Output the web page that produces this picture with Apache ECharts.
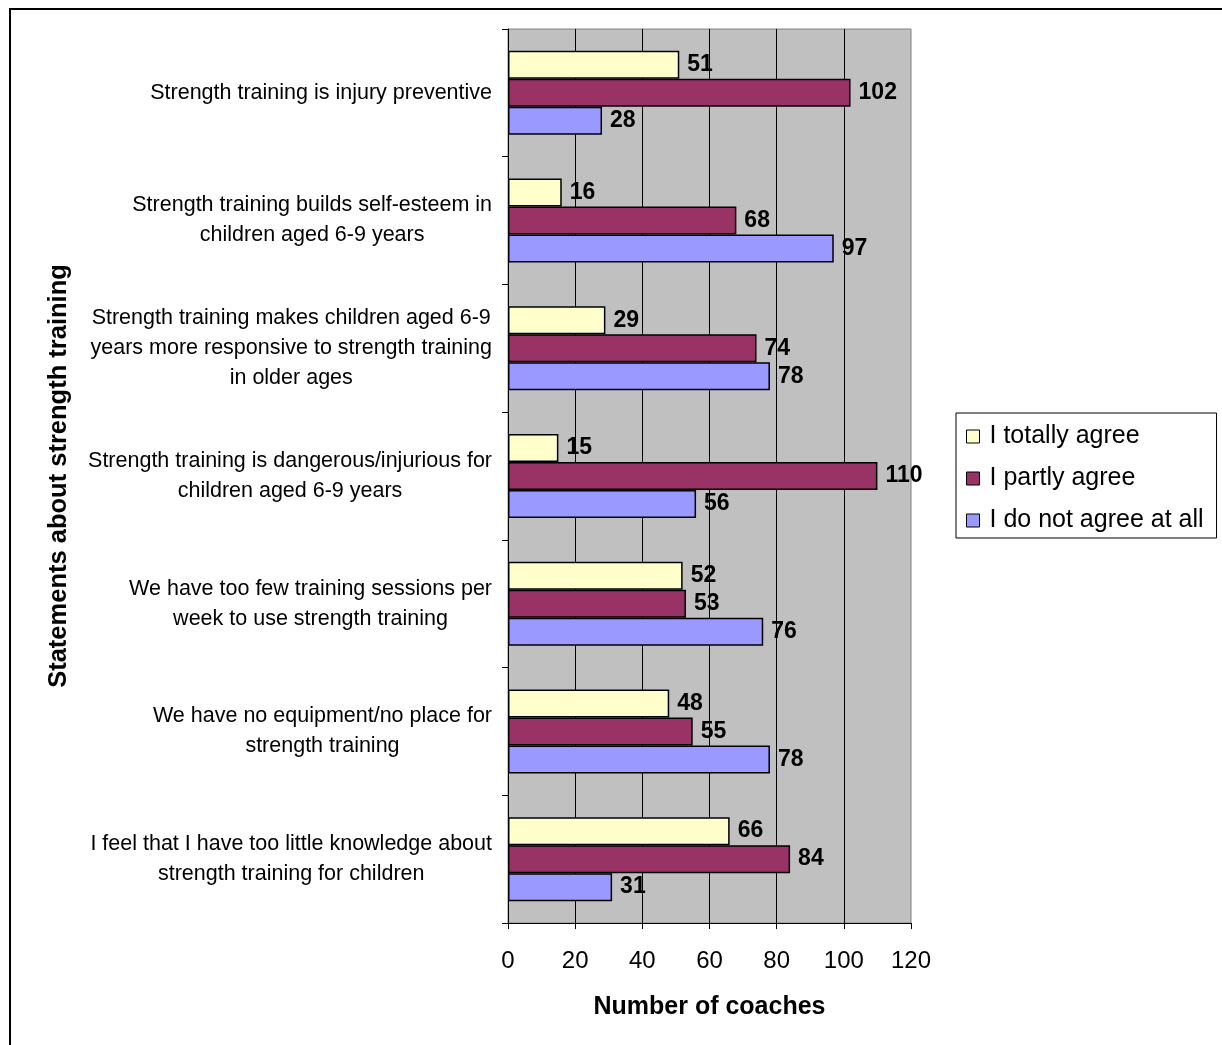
<!DOCTYPE html>
<html>
<head>
<meta charset="utf-8">
<style>
  html, body { margin: 0; padding: 0; background: #ffffff; }
  #chart { width: 1222px; height: 1045px; }
</style>
<script src="https://cdn.jsdelivr.net/npm/echarts@6/dist/echarts.min.js"></script>
</head>
<body>
<div id="chart"></div>
<script>
// Survey statements (line breaks as printed on the axis)
const categories = [
  'Strength training is injury preventive',
  'Strength training builds self-esteem in\nchildren aged 6-9 years',
  'Strength training makes children aged 6-9\nyears more responsive to strength training\nin older ages',
  'Strength training is dangerous/injurious for\nchildren aged 6-9 years',
  'We have too few training sessions per\nweek to use strength training',
  'We have no equipment/no place for\nstrength training',
  'I feel that I have too little knowledge about\nstrength training for children'
];

const seriesNames = ['I totally agree', 'I partly agree', 'I do not agree at all'];
const totallyAgree = [51, 16, 29, 15, 52, 48, 66];
const partlyAgree = [102, 68, 74, 110, 53, 55, 84];
const notAgree = [28, 97, 78, 56, 76, 78, 31];
const xTicks = [0, 20, 40, 60, 80, 100, 120];

const colors = ['#ffffcc', '#993366', '#9999ff'];
const FONT = '"Liberation Sans", Arial, sans-serif';

const chart = echarts.init(document.getElementById('chart'), null, { renderer: 'canvas' });

function barSeries(name, data, color) {
  return {
    name: name,
    type: 'bar',
    data: data,
    barWidth: 28,
    barGap: '0%',
    itemStyle: { color: color, borderColor: '#000000', borderWidth: 1.5 },
    label: {
      show: true,
      position: 'right',
      distance: 8,
      color: '#000000',
      fontFamily: FONT,
      fontWeight: 'bold',
      fontSize: 23
    },
    emphasis: { disabled: true }
  };
}

const option = {
  animation: false,
  backgroundColor: '#ffffff',
  textStyle: { fontFamily: FONT },
  graphic: [{
    type: 'rect',
    shape: { x: 10, y: 9, width: 1300, height: 1100 },
    style: { fill: 'none', stroke: '#000000', lineWidth: 2 },
    silent: true
  }],
  grid: {
    left: 508,
    right: 311,
    top: 29,
    height: 894,
    show: true,
    backgroundColor: '#c0c0c0',
    borderColor: '#808080',
    borderWidth: 1
  },
  legend: {
    orient: 'vertical',
    left: 956,
    top: 413,
    data: seriesNames,
    icon: 'rect',
    itemWidth: 13,
    itemHeight: 13,
    itemGap: 17,
    padding: [11, 13, 5, 10],
    borderColor: '#000000',
    borderWidth: 1,
    backgroundColor: '#ffffff',
    textStyle: { fontFamily: FONT, fontSize: 25, color: '#000000', padding: [0, 0, 0, 5] },
    itemStyle: { borderColor: '#000000', borderWidth: 1 },
    selectedMode: false
  },
  xAxis: {
    type: 'value',
    min: 0,
    max: 120,
    interval: 20,
    name: 'Number of coaches',
    nameLocation: 'middle',
    nameGap: 72,
    nameTextStyle: { fontFamily: FONT, fontSize: 25, fontWeight: 'bold', color: '#000000' },
    axisLine: { show: true, lineStyle: { color: '#000000', width: 1 } },
    axisTick: { show: true, length: 6, lineStyle: { color: '#000000' } },
    axisLabel: {
      fontFamily: FONT,
      fontSize: 24,
      color: '#000000',
      margin: 26,
      formatter: function (v) { return xTicks.indexOf(v) >= 0 ? String(v) : ''; }
    },
    splitLine: {
      show: true,
      showMinLine: false,
      showMaxLine: false,
      lineStyle: { color: '#000000', width: 1 }
    }
  },
  yAxis: {
    type: 'category',
    inverse: true,
    data: categories,
    name: 'Statements about strength training',
    nameLocation: 'middle',
    nameGap: 436,
    nameRotate: 90,
    nameTextStyle: { fontFamily: FONT, fontSize: 25.5, fontWeight: 'bold', color: '#000000' },
    axisLine: { show: true, lineStyle: { color: '#000000', width: 1 } },
    axisTick: { show: true, interval: 0, length: 6, lineStyle: { color: '#000000' } },
    axisLabel: {
      interval: 0,
      margin: 16,
      color: '#000000',
      formatter: function (v) {
        return v.split('\n').map(function (s) { return '{c|' + s + '}'; }).join('\n');
      },
      rich: {
        c: { fontFamily: FONT, fontSize: 21.5, color: '#000000', align: 'center', lineHeight: 30 }
      }
    },
    splitLine: { show: false }
  },
  series: [
    barSeries(seriesNames[0], totallyAgree, colors[0]),
    barSeries(seriesNames[1], partlyAgree, colors[1]),
    barSeries(seriesNames[2], notAgree, colors[2])
  ]
};

chart.setOption(option);
</script>
</body>
</html>
